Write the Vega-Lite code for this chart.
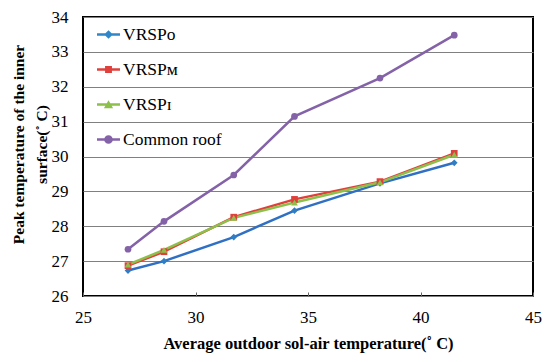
{
  "$schema": "https://vega.github.io/schema/vega-lite/v6.json",
  "autosize": {"type": "none"},
  "padding": {"left": 83, "top": 17, "right": 17, "bottom": 66},
  "width": 450,
  "height": 279,
  "background": "white",
  "config": {
    "view": {"stroke": "black", "strokeWidth": 2},
    "font": "Liberation Serif"
  },
  "data": {
    "values": [
      {"t": 27.0, "peak": 26.73, "series": "VRSPo"},
      {"t": 28.6, "peak": 27.0, "series": "VRSPo"},
      {"t": 31.7, "peak": 27.69, "series": "VRSPo"},
      {"t": 34.4, "peak": 28.45, "series": "VRSPo"},
      {"t": 38.2, "peak": 29.23, "series": "VRSPo"},
      {"t": 41.5, "peak": 29.82, "series": "VRSPo"},
      {"t": 27.0, "peak": 26.87, "series": "VRSPm"},
      {"t": 28.6, "peak": 27.27, "series": "VRSPm"},
      {"t": 31.7, "peak": 28.26, "series": "VRSPm"},
      {"t": 34.4, "peak": 28.77, "series": "VRSPm"},
      {"t": 38.2, "peak": 29.28, "series": "VRSPm"},
      {"t": 41.5, "peak": 30.09, "series": "VRSPm"},
      {"t": 27.0, "peak": 26.9, "series": "VRSPi"},
      {"t": 28.6, "peak": 27.32, "series": "VRSPi"},
      {"t": 31.7, "peak": 28.24, "series": "VRSPi"},
      {"t": 34.4, "peak": 28.68, "series": "VRSPi"},
      {"t": 38.2, "peak": 29.26, "series": "VRSPi"},
      {"t": 41.5, "peak": 30.05, "series": "VRSPi"},
      {"t": 27.0, "peak": 27.34, "series": "Common roof"},
      {"t": 28.6, "peak": 28.14, "series": "Common roof"},
      {"t": 31.7, "peak": 29.47, "series": "Common roof"},
      {"t": 34.4, "peak": 31.15, "series": "Common roof"},
      {"t": 38.2, "peak": 32.25, "series": "Common roof"},
      {"t": 41.5, "peak": 33.48, "series": "Common roof"}
    ]
  },
  "encoding": {
    "x": {
      "field": "t", "type": "quantitative",
      "scale": {"domain": [25, 45], "nice": false, "zero": false},
      "axis": {
        "values": [25, 30, 35, 40, 45],
        "title": "Average outdoor sol-air temperature(˚ C)",
        "titleFont": "Liberation Serif", "titleFontSize": 16.5, "titleFontWeight": "bold", "titleColor": "black",
        "titlePadding": 10,
        "labelFont": "Liberation Serif", "labelFontSize": 17, "labelColor": "black",
        "labelPadding": 17, "labelFlush": false,
        "domain": false, "grid": false,
        "ticks": true, "tickSize": -4, "tickColor": "#666", "tickWidth": 1
      }
    },
    "y": {
      "field": "peak", "type": "quantitative",
      "scale": {"domain": [26, 34], "nice": false, "zero": false},
      "axis": {
        "values": [26, 27, 28, 29, 30, 31, 32, 33, 34],
        "title": ["Peak temperature of the inner", "surface(˚ C)"],
        "titleFont": "Liberation Serif", "titleFontSize": 15.5, "titleFontWeight": "bold", "titleColor": "black",
        "titleLineHeight": 23, "titlePadding": 2, "titleY": 127,
        "labelFont": "Liberation Serif", "labelFontSize": 17, "labelColor": "black",
        "labelPadding": 15, "labelFlush": false,
        "domain": false, "ticks": false,
        "grid": true, "gridColor": "#808080", "gridWidth": 1
      }
    }
  },
  "layer": [
    {
      "mark": {"type": "line", "strokeWidth": 2.5},
      "encoding": {
        "color": {
          "field": "series", "type": "nominal",
          "scale": {"domain": ["VRSPo", "VRSPm", "VRSPi", "Common roof"], "range": ["#3070c4", "#e0403c", "#8cc04a", "#8462a8"]},
          "legend": null
        },
        "detail": {"field": "series"}
      }
    },
    {
      "mark": {"type": "point", "filled": true, "opacity": 1},
      "encoding": {
        "color": {
          "field": "series", "type": "nominal",
          "scale": {"domain": ["VRSPo", "VRSPm", "VRSPi", "Common roof"], "range": ["#2f7ec4", "#e0403c", "#8cc04a", "#8462a8"]},
          "legend": null
        },
        "shape": {
          "field": "series", "type": "nominal",
          "scale": {"domain": ["VRSPo", "VRSPm", "VRSPi", "Common roof"], "range": ["diamond", "square", "triangle-up", "circle"]},
          "legend": null
        },
        "size": {
          "field": "series", "type": "nominal",
          "scale": {"domain": ["VRSPo", "VRSPm", "VRSPi", "Common roof"], "range": [45, 45, 60, 70]},
          "legend": null
        }
      }
    },
    {
      "transform": [{"filter": "false"}],
      "mark": {"type": "point", "filled": true, "opacity": 1, "strokeWidth": 0},
      "encoding": {
        "color": {
          "field": "series", "type": "nominal",
          "scale": {"domain": ["VRSPo", "VRSPm", "VRSPi", "Common roof"], "range": ["#2f86c8", "#e0403c", "#8cc04a", "#8462a8"]},
          "legend": {
            "title": null, "orient": "none", "legendX": 14, "legendY": 6,
            "padding": 0, "symbolSize": 529, "symbolStrokeWidth": 0,
            "labelFont": "Liberation Serif", "labelFontSize": 17.5, "labelColor": "black",
            "labelOffset": 3, "rowPadding": 15,
            "labelExpr": "datum.label == 'VRSPo' ? 'VRSPᴏ' : datum.label == 'VRSPm' ? 'VRSPᴍ' : datum.label == 'VRSPi' ? 'VRSPɪ' : datum.label"
          }
        },
        "shape": {
          "field": "series", "type": "nominal",
          "scale": {"domain": ["VRSPo", "VRSPm", "VRSPi", "Common roof"], "range": [
            "M-1,-0.1H1V0.1H-1Z M0,-0.38L0.38,0L0,0.38L-0.38,0Z",
            "M-1,-0.1H1V0.1H-1Z M-0.3,-0.3H0.3V0.3H-0.3Z",
            "M-1,-0.1H1V0.1H-1Z M0,-0.38L0.4,0.32L-0.4,0.32Z",
            "M-1,-0.1H1V0.1H-1Z M0.38,0A0.38,0.38 0 1 1 -0.38,0A0.38,0.38 0 1 1 0.38,0Z"
          ]},
          "legend": {
            "title": null, "orient": "none", "legendX": 14, "legendY": 6,
            "padding": 0, "symbolSize": 529, "symbolStrokeWidth": 0,
            "labelFont": "Liberation Serif", "labelFontSize": 17.5, "labelColor": "black",
            "labelOffset": 3, "rowPadding": 15,
            "labelExpr": "datum.label == 'VRSPo' ? 'VRSPᴏ' : datum.label == 'VRSPm' ? 'VRSPᴍ' : datum.label == 'VRSPi' ? 'VRSPɪ' : datum.label"
          }
        }
      }
    }
  ],
  "resolve": {"scale": {"color": "independent", "shape": "independent", "size": "independent"}}
}
